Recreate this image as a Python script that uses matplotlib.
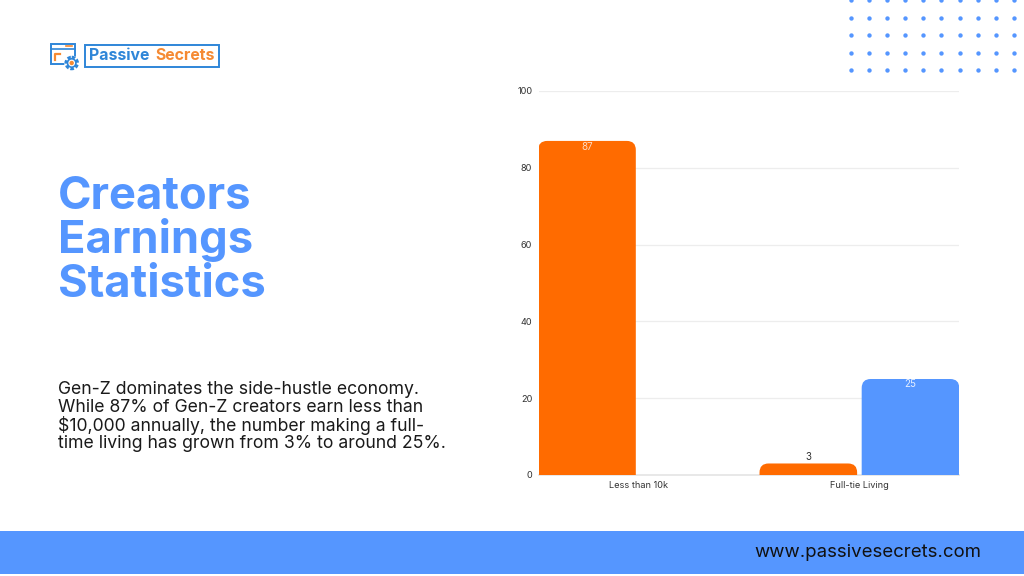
import matplotlib
matplotlib.use("Agg")
import matplotlib.pyplot as plt
import numpy as np
from matplotlib.path import Path
from matplotlib.patches import PathPatch, Rectangle, Circle

plt.rcParams['font.family'] = ['Inter', 'DejaVu Sans']

categories = ["Less than 10k", "Full-tie Living"]
orange_values = [87, 3]
blue_values = [0, 25]
y_ticks = [0, 20, 40, 60, 80, 100]
title_lines = ["Creators", "Earnings", "Statistics"]
body_lines = [
    "Gen-Z dominates the side-hustle economy.",
    "While 87% of Gen-Z creators earn less than",
    "$10,000 annually, the number making a full-",
    "time living has grown from 3% to around 25%.",
]

BLUE = "#5596FF"
ORANGE = "#FF6B00"
GRID = "#EDEDED"
LOGO_BLUE = "#2F86D8"
LOGO_ORANGE = "#F58A33"


def rounded_bar(ax, x, width, height, color):
    # top corners only, radius is about 9px on screen
    if height <= 0:
        return
    rx = 9 / 221
    ry = min(9 / 3.84, height)
    l, r = x - width / 2, x + width / 2
    verts = [(l, 0), (l, height - ry), (l, height), (l + rx, height),
             (r - rx, height), (r, height), (r, height - ry), (r, 0), (l, 0)]
    codes = [Path.MOVETO, Path.LINETO, Path.CURVE3, Path.CURVE3,
             Path.LINETO, Path.CURVE3, Path.CURVE3, Path.LINETO, Path.CLOSEPOLY]
    ax.add_patch(PathPatch(Path(verts, codes), facecolor=color, edgecolor="none", zorder=3))


fig = plt.figure(figsize=(10.24, 5.76), dpi=100, facecolor="white")

# full page layer in pixel coordinates for the slide decoration
page = fig.add_axes([0, 0, 1, 1])
page.set_xlim(0, 1024)
page.set_ylim(576, 0)
page.axis("off")

page.add_patch(Rectangle((0, 531), 1024, 43, facecolor=BLUE, edgecolor="none"))
page.text(868, 552.5, "www.passivesecrets.com", color="#111111", fontsize=13.4,
          ha="center", va="center")

dot_x = [850.7 + 18.15 * i for i in range(10)]
dot_y = [0, 17.5, 35, 52.7, 70.3]
for yy in dot_y:
    page.scatter(dot_x, [yy] * 10, s=10, color=BLUE, linewidths=0)

for i, line in enumerate(title_lines):
    page.text(58, 209 + 44 * i, line, color=BLUE, fontsize=32.6, fontweight="bold",
              ha="left", va="baseline")
for line, yy in zip(body_lines, [389.5, 408, 425.5, 443.5]):
    page.text(58, yy, line, color="#1a1a1a", fontsize=12.7, ha="left", va="center")

# logo
page.add_patch(Rectangle((84.5, 44.5), 134, 22.5, facecolor="white", edgecolor=LOGO_BLUE, lw=1.4))
page.text(89, 56, "Passive", color=LOGO_BLUE, fontsize=11.4, fontweight="bold", ha="left", va="center")
page.text(155, 56, "Secrets", color=LOGO_ORANGE, fontsize=11.4, fontweight="bold", ha="left", va="center")
page.add_patch(Rectangle((51, 43.5), 24, 20, facecolor="white", edgecolor=LOGO_BLUE, lw=1.4))
page.plot([51, 75], [48.5, 48.5], color=LOGO_BLUE, lw=1.2)
page.plot([66, 72], [46, 46], color=LOGO_ORANGE, lw=1.2)
page.plot([55, 55, 60], [60, 53.5, 53.5], color=LOGO_ORANGE, lw=1.6)
page.add_patch(Circle((71.7, 63), 7.5, facecolor="white", edgecolor="none", zorder=3))
page.add_patch(Circle((71.7, 63), 5.6, facecolor="none", edgecolor=LOGO_BLUE, lw=2.4,
                      ls=(0, (1.0, 0.55)), zorder=4))
page.add_patch(Circle((71.7, 63), 4.2, facecolor="white", edgecolor=LOGO_BLUE, lw=1.2, zorder=4))
page.add_patch(Circle((71.7, 63), 2.2, facecolor=LOGO_ORANGE, edgecolor="none", zorder=5))

# chart
ax = fig.add_axes([538.5 / 1024, (576 - 475) / 576, 420.5 / 1024, 384 / 576])
ax.patch.set_alpha(0)
x = np.arange(len(categories))
bar_w = 0.441
offset = 0.2308

for i in x:
    rounded_bar(ax, i - offset, bar_w, orange_values[i], ORANGE)
    rounded_bar(ax, i + offset, bar_w, blue_values[i], BLUE)

ax.set_xlim(-0.45, 1.45)
ax.set_ylim(0, 100)
ax.set_yticks(y_ticks)
ax.set_xticks(x)
ax.set_xticklabels(categories)
ax.tick_params(length=0, labelsize=6.6, labelcolor="#333333", pad=4.5)
ax.grid(axis="y", color=GRID, lw=0.9, zorder=0)
ax.set_axisbelow(True)
for s in ["top", "right", "left"]:
    ax.spines[s].set_visible(False)
ax.spines["bottom"].set_color("#E4E4E4")
ax.spines["bottom"].set_linewidth(1.2)

ax.text(0 - offset, 85.5, str(orange_values[0]), color="#FFD9BF", fontsize=7, ha="center", va="center", zorder=4)
ax.text(1 - offset, 4.7, str(orange_values[1]), color="#333333", fontsize=7, ha="center", va="center", zorder=4)
ax.text(1 + offset, 23.6, str(blue_values[1]), color="#E4EEFF", fontsize=7, ha="center", va="center", zorder=4)

fig.savefig("out.png", dpi=100, facecolor="white")
